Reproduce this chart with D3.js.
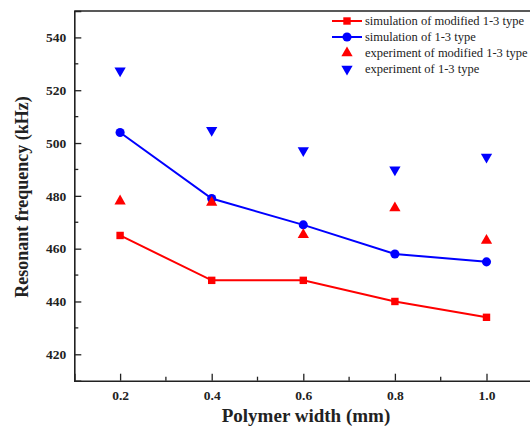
<!DOCTYPE html>
<html>
<head>
<meta charset="utf-8">
<script src="https://cdn.jsdelivr.net/npm/d3@7"></script>
<style>
  body { margin: 0; background: #fff; }
  svg { display: block; }
  text { font-family: "Liberation Serif", "Times New Roman", serif; }
</style>
</head>
<body>
<script>
var width = 530,
    height = 429;

var widths = [0.2, 0.4, 0.6, 0.8, 1.0];
var simModified = [465, 448, 448, 440, 434];
var sim13 = [504, 479, 469, 458, 455];
var expModified = [478, 477.5, 465.3, 475.4, 463.1];
var exp13 = [527.4, 504.8, 497.2, 489.9, 494.7];

var xTicks = [0.2, 0.4, 0.6, 0.8, 1.0];
var yTicks = [420, 440, 460, 480, 500, 520, 540];

var legendNames = ["simulation of modified 1-3 type", "simulation of 1-3 type",
                   "experiment of modified 1-3 type", "experiment of 1-3 type"];

var red = "#ff0000", blue = "#0000ff";

var plotLeft = 74.3, plotRight = 532.3, plotTop = 11, plotBottom = 380.7;

var x = d3.scaleLinear().domain([0.1, 1.1]).range([plotLeft, plotRight]);
var y = d3.scaleLinear().domain([410, 550]).range([plotBottom, plotTop]);

var svg = d3.select("body")
            .append("svg")
            .attr("width", width)
            .attr("height", height);

// axes, ticks inward
var xAxis = d3.axisBottom(x).tickValues(xTicks).tickSize(-7).tickPadding(10)
              .tickFormat(d3.format(".1f"));
var yAxis = d3.axisLeft(y).tickValues(yTicks).tickSize(-7).tickPadding(8);

var gx = svg.append("g").attr("transform", "translate(0," + plotBottom + ")").call(xAxis);
var gy = svg.append("g").attr("transform", "translate(" + plotLeft + ",0)").call(yAxis);

// minor ticks
svg.append("g").selectAll("line")
   .data([0.3, 0.5, 0.7, 0.9])
   .enter().append("line")
   .attr("x1", function(d) { return x(d); })
   .attr("x2", function(d) { return x(d); })
   .attr("y1", plotBottom).attr("y2", plotBottom - 4)
   .attr("stroke", "#222").attr("stroke-width", 1.3);
svg.append("g").selectAll("line")
   .data([430, 450, 470, 490, 510, 530])
   .enter().append("line")
   .attr("x1", plotLeft).attr("x2", plotLeft + 4)
   .attr("y1", function(d) { return y(d); })
   .attr("y2", function(d) { return y(d); })
   .attr("stroke", "#222").attr("stroke-width", 1.3);

[gx, gy].forEach(function(g) {
  g.attr("font-size", 13.5).attr("font-family", "Liberation Serif, serif");
  g.select(".domain").attr("stroke", "#222").attr("stroke-width", 1.6);
  g.selectAll(".tick line").attr("stroke", "#222").attr("stroke-width", 1.3);
  g.selectAll(".tick text")
   .attr("font-weight", "bold")
   .attr("fill", "#222");
});

// top border
svg.append("line")
   .attr("x1", plotLeft).attr("x2", plotRight)
   .attr("y1", plotTop).attr("y2", plotTop)
   .attr("stroke", "#222").attr("stroke-width", 1.6);

// axis titles
svg.append("text")
   .attr("x", 306)
   .attr("y", 422)
   .attr("text-anchor", "middle")
   .attr("font-weight", "bold")
   .attr("font-size", "19px")
   .attr("fill", "#222")
   .text("Polymer width (mm)");

svg.append("text")
   .attr("transform", "translate(28,197) rotate(-90)")
   .attr("text-anchor", "middle")
   .attr("font-weight", "bold")
   .attr("font-size", "18px")
   .attr("fill", "#222")
   .text("Resonant frequency (kHz)");

// lines
var line = d3.line()
  .x(function(d, i) { return x(widths[i]); })
  .y(function(d) { return y(d); });

svg.append("path").datum(simModified)
   .attr("d", line).attr("fill", "none")
   .attr("stroke", red).attr("stroke-width", 2);
svg.append("path").datum(sim13)
   .attr("d", line).attr("fill", "none")
   .attr("stroke", blue).attr("stroke-width", 2);

var sq = d3.symbol().type(d3.symbolSquare).size(55);
var ci = d3.symbol().type(d3.symbolCircle).size(65);
var tri = d3.symbol().type(d3.symbolTriangle).size(55);

function marks(data, sym, color, rot) {
  svg.append("g").selectAll("path")
     .data(data)
     .enter().append("path")
     .attr("d", sym)
     .attr("transform", function(d, i) {
        return "translate(" + x(widths[i]) + "," + y(d) + ")" + (rot ? " rotate(180)" : "");
     })
     .attr("fill", color);
}
marks(simModified, sq, red, false);
marks(sim13, ci, blue, false);
marks(expModified, tri, red, false);
marks(exp13, tri, blue, true);

// legend
var legendY = [21, 37, 53, 69];
var lg = svg.append("g");
legendNames.forEach(function(name, i) {
  var color = (i % 2 === 0) ? red : blue;
  if (i < 2) {
    lg.append("line")
      .attr("x1", 332).attr("x2", 362)
      .attr("y1", legendY[i]).attr("y2", legendY[i])
      .attr("stroke", color).attr("stroke-width", 2);
  }
  var s = i === 0 ? sq : (i === 1 ? ci : tri);
  lg.append("path")
    .attr("d", s)
    .attr("transform", "translate(347," + legendY[i] + ")" + (i === 3 ? " rotate(180)" : ""))
    .attr("fill", color);
  lg.append("text")
    .attr("x", 365)
    .attr("y", legendY[i] + 4)
    .attr("font-size", "12.5px")
    .attr("fill", "#222")
    .text(name);
});
</script>
</body>
</html>
